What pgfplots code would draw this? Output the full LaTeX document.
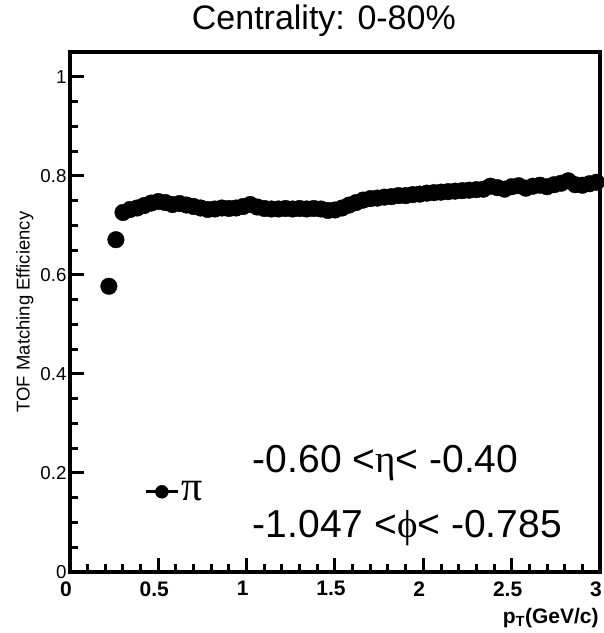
\documentclass[border=0pt]{standalone}
\usepackage{pgfplots}
\pgfplotsset{compat=1.18}
\usepackage{fontspec}
\setmainfont{Liberation Sans}
\newfontfamily\serif{Liberation Serif}

\pgfplotstableread{
x y
0.22 0.577
0.26 0.671
0.30 0.726
0.34 0.732
0.38 0.735
0.42 0.740
0.46 0.745
0.50 0.748
0.54 0.746
0.58 0.742
0.62 0.744
0.66 0.741
0.70 0.738
0.74 0.735
0.78 0.732
0.82 0.733
0.86 0.735
0.90 0.734
0.94 0.735
0.98 0.738
1.02 0.742
1.06 0.737
1.10 0.734
1.14 0.733
1.18 0.733
1.22 0.734
1.26 0.733
1.30 0.734
1.34 0.733
1.38 0.734
1.42 0.733
1.46 0.730
1.50 0.731
1.54 0.735
1.58 0.741
1.62 0.746
1.66 0.751
1.70 0.754
1.74 0.755
1.78 0.757
1.82 0.758
1.86 0.760
1.90 0.760
1.94 0.762
1.98 0.763
2.02 0.765
2.06 0.766
2.10 0.767
2.14 0.768
2.18 0.769
2.22 0.770
2.26 0.771
2.30 0.772
2.34 0.773
2.38 0.779
2.42 0.776
2.46 0.773
2.50 0.778
2.54 0.780
2.58 0.775
2.62 0.779
2.66 0.781
2.70 0.778
2.74 0.782
2.78 0.785
2.82 0.790
2.86 0.782
2.90 0.781
2.94 0.784
2.98 0.787
}\pidata

\begin{document}
\begin{tikzpicture}
\useasboundingbox (-70pt,-61pt) rectangle (534pt,572pt);
\begin{axis}[
  at={(0pt,0pt)}, anchor=south west,
  scale only axis, width=530pt, height=520pt,
  xmin=0, xmax=3, ymin=0, ymax=1.05,
  /pgf/number format/assume math mode=true,
  axis line style={line width=3.5pt},
  xtick={0,0.5,1,1.5,2,2.5,3},
  ytick={0,0.2,0.4,0.6,0.8,1},
  minor x tick num=4, minor y tick num=3,
  xtick pos=lower, ytick pos=left,
  tick align=inside,
  major tick length=14pt, minor tick length=8pt,
  every tick/.style={line width=3pt, black},
  xticklabel style={font=\bfseries\fontsize{21}{22}\selectfont, yshift=-6pt, xshift=-4pt},
  yticklabel style={font=\fontsize{18.7}{20}\selectfont},
  xticklabels={0,0.5,1,1.5,2,2.5,3},
  yticklabels={0,0.2,0.4,0.6,0.8,1},
  ylabel={TOF Matching Efficiency},
  ylabel style={font=\fontsize{18.5}{20}\selectfont, at={(axis description cs:-0.085,0.5)}, anchor=center},
  xlabel={\textbf{p\textsubscript{T}(GeV/c)}},
  xlabel style={font=\fontsize{21}{22}\selectfont, at={(axis description cs:1.004,-0.088)}, anchor=east},
  title={Centrality: 0-80\%},
  title style={font=\fontsize{34}{40}\selectfont, at={(axis description cs:0.479,1)}, anchor=base, yshift=16pt},
  legend style={draw=none, fill=none, at={(axis cs:0.42,0.162)}, anchor=west,
    inner sep=0pt,
    /tikz/every even column/.append style={column sep=2pt}},
  legend cell align=left,
  legend image code/.code={
    \draw[line width=3pt] (0pt,0pt) -- (32pt,0pt);
    \fill (16pt,0pt) circle (6.5pt);
  },
]
\addplot[only marks, mark=*, mark size=8.3pt, black] table {\pidata};
\addlegendentry{\serif\fontsize{42}{42}\selectfont π}
\node[anchor=base west, font=\fontsize{39}{40}\selectfont, inner sep=0pt] at (axis cs:1.034,0.2) {-0.60 <{\serif η}< -0.40};
\node[anchor=base west, font=\fontsize{39}{40}\selectfont, inner sep=0pt] at (axis cs:1.034,0.069) {-1.047 <{\serif ϕ}< -0.785};
\end{axis}
\end{tikzpicture}
\end{document}
